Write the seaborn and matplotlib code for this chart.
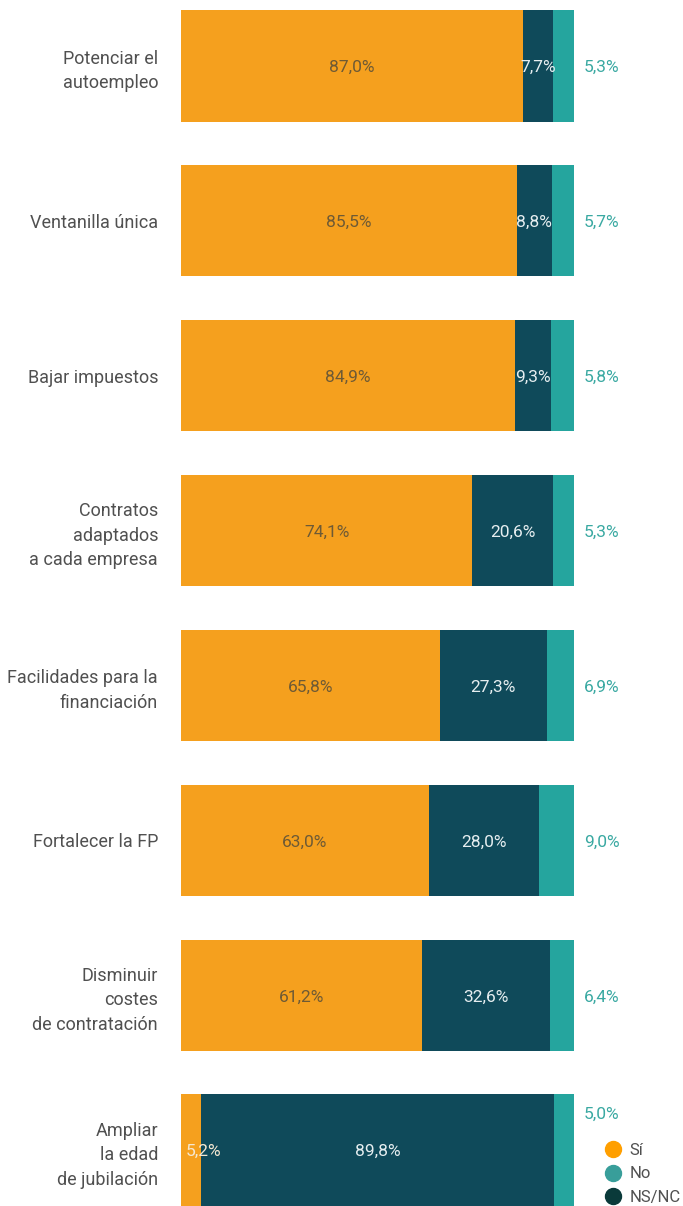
import matplotlib
matplotlib.use("Agg")
import matplotlib.pyplot as plt
from matplotlib.lines import Line2D
import seaborn as sns
import pandas as pd

# Data
categories = [
    "Potenciar el\nautoempleo",
    "Ventanilla única",
    "Bajar impuestos",
    "Contratos\nadaptados\na cada empresa",
    "Facilidades para la\nfinanciación",
    "Fortalecer la FP",
    "Disminuir\ncostes\nde contratación",
    "Ampliar\nla edad\nde jubilación",
]
si_vals = [87.0, 85.5, 84.9, 74.1, 65.8, 63.0, 61.2, 5.2]
dark_vals = [7.7, 8.8, 9.3, 20.6, 27.3, 28.0, 32.6, 89.8]
no_vals = [5.3, 5.7, 5.8, 5.3, 6.9, 9.0, 6.4, 5.0]
legend_labels = ["Sí", "No", "NS/NC"]

C_SI = "#F5A01E"
C_DARK = "#0F4A5A"
C_NO = "#25A59E"

df = pd.DataFrame({"cat": categories, "si": si_vals, "dark": dark_vals, "no": no_vals})
df["cum_dark"] = df["si"] + df["dark"]
df["total"] = df["cum_dark"] + df["no"]

sns.set_theme(style="white")
plt.rcParams["font.family"] = ["Roboto", "DejaVu Sans"]

fig = plt.figure(figsize=(6.83, 12.06), dpi=100)
ax = fig.add_axes([181 / 683, 0.0, 393 / 683, 1196 / 1206])

kw = dict(y="cat", orient="h", width=0.72, ax=ax, saturation=1, linewidth=0)
sns.barplot(data=df, x="total", color=C_NO, **kw)
sns.barplot(data=df, x="cum_dark", color=C_DARK, **kw)
sns.barplot(data=df, x="si", color=C_SI, **kw)

ax.set_xlim(0, 100)
ax.set_ylim(7.36, -0.36)
ax.set_xlabel("")
ax.set_ylabel("")
ax.set_xticks([])
ax.set_yticks(range(len(categories)))
ax.set_yticklabels(categories, fontsize=13, color="#505050", linespacing=1.45)
ax.tick_params(axis="y", length=0, pad=16.5)
for s in ax.spines.values():
    s.set_visible(False)

def fmt(v):
    return f"{v:.1f}%".replace(".", ",")

for i in range(len(categories)):
    s, d, n = si_vals[i], dark_vals[i], no_vals[i]
    sx = s / 2 if s > 10 else s / 2 + 3
    ax.text(sx, i + 0.01, fmt(s), ha="center", va="center", fontsize=12.5,
            color="#6e5a35" if s > 10 else "#f5e8d2")
    ax.text(s + d / 2, i + 0.01, fmt(d), ha="center", va="center", fontsize=12.5,
            color="#e6eef0")
    ny = i + 0.01 if i < len(categories) - 1 else i - 0.23
    ax.text(102.5, ny, fmt(n), ha="left", va="center", fontsize=12.5,
            color="#3aa9a2", clip_on=False)

handles = [
    Line2D([], [], marker="o", linestyle="", markersize=11.5, color="#FF9F00"),
    Line2D([], [], marker="o", linestyle="", markersize=11.5, color="#389E9A"),
    Line2D([], [], marker="o", linestyle="", markersize=11.5, color="#0A3A3A"),
]
leg = fig.legend(handles, legend_labels, loc="upper left", bbox_to_anchor=(605 / 683, 1 - 1143 / 1206),
                 frameon=False, handletextpad=0.45, labelspacing=0.5,
                 handlelength=1.0, borderaxespad=0, borderpad=0, prop={"size": 12})
for t in leg.get_texts():
    t.set_color("#505050")

fig.savefig("out.png", dpi=100)
